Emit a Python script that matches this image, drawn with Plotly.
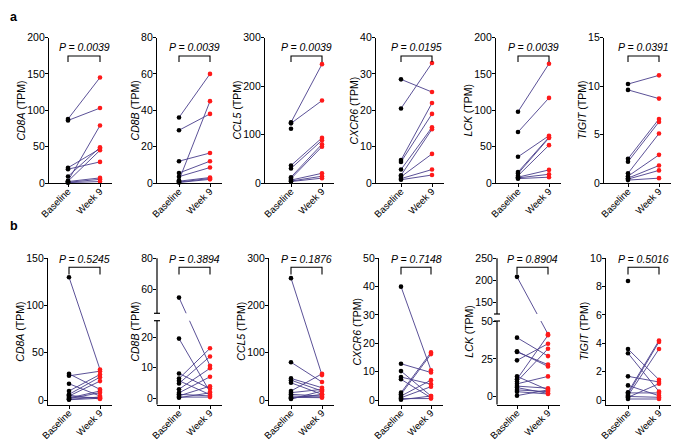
import plotly.graph_objects as go

W, H = 682, 442
OX, OY = 8, 8  # the page body offsets the plot div by 8 px
FONT = "Liberation Sans, Arial, sans-serif"

GENES = ["CD8A", "CD8B", "CCL5", "CXCR6", "LCK", "TIGIT"]
XLABELS = ["Baseline", "Week 9"]

# ---- panel a (TPM, one entry per patient; None = missing pair)
a_cd8a_base = [88, 86, 21, 19, 9, 3, 2.5, 2, 1, 0.5]
a_cd8a_wk9 = [145, 103, 47, 29, 49, 79, 45, 7, 5, 2]
a_cd8b_base = [36, 29, 12, 5.5, 3.5, 1.5, 1, 0.5, 0.3]
a_cd8b_wk9 = [60, 38, 16.5, 12, 8.5, 45, 3, 2.5, 2]
a_ccl5_base = [125, 123, 112, 36, 30, 12, 9, 6, 4, 3]
a_ccl5_wk9 = [245, 170, None, 93, 88, 80, 75, 20, 14, 10]
a_cxcr6_base = [28.5, 20.5, 6.3, 5.8, 3.7, 2.1, 1.7, 1.2, 0.9]
a_cxcr6_wk9 = [25, 33, 22, 19, 15.3, 14.8, 8, 3.7, 2.2]
a_lck_base = [98, 70, 36, 15, 13, 10, 8, 7, 6]
a_lck_wk9 = [164, 117, 65, 63, 62, 52, 18, 12, 8]
a_tigit_base = [10.2, 9.6, 2.5, 2.2, 1.0, 0.7, 0.5, 0.4, 0.3]
a_tigit_wk9 = [11.1, 8.7, 6.6, 6.3, 5.1, 2.9, 1.8, 1.3, 0.5]

a_pvals = ["0.0039", "0.0039", "0.0039", "0.0195", "0.0039", "0.0391"]
a_ticks = [
    [0, 50, 100, 150, 200],
    [0, 20, 40, 60, 80],
    [0, 100, 200, 300],
    [0, 10, 20, 30, 40],
    [0, 50, 100, 150, 200],
    [0, 5, 10, 15],
]

# ---- panel b
b_cd8a_base = [130, 27.7, 25.6, 17.2, 9.5, 6, 4.2, 3.2, 2.1, 1.4, 0.7, 0.3, 5]
b_cd8a_wk9 = [32.3, 11.2, 30.5, 4.2, 27, 24.2, 20, 2.5, 9.5, 7.7, 3.2, 1.8, 1]
b_cd8b_base = [55, 19.6, 8.1, 6.4, 5.7, 4.8, 2.9, 1.7, 1.2, 0.7, 0.3, 0.1]
b_cd8b_wk9 = [10.6, 2, 3.1, 16.4, 1.1, 13.7, 9.8, 7, 0.7, 3.9, 0.3, 1.7]
b_ccl5_base = [258, 80, 45.7, 42, 36.5, 19, 15.5, 12, 8.4, 5.6, 3.5, 2]
b_ccl5_wk9 = [52.7, 38, 26, 19, 12, 55.5, 22.5, 8.4, 6.3, 4.9, 12, 19]
b_cxcr6_base = [40, 12.8, 10.2, 8.1, 7.3, 2.6, 2, 1.4, 0.8, 0.5, 0.1]
b_cxcr6_wk9 = [10.5, 9.7, 1.4, 5.6, 0.8, 16.8, 16.2, 7, 4.7, 0.5, 1.4]
b_lck_base = [208, 39, 30, 29.5, 24, 13.4, 11.6, 10, 8.5, 7, 6, 4.5, 3.3, 0.7]
b_lck_wk9 = [41.3, 26.8, 20, 21.2, 35, 4.5, 40.6, 31.7, 13.4, 5.6, 2.2, 3.3, 1.8, 4.5]
b_tigit_base = [8.4, 3.6, 3.3, 1.67, 1.03, 0.55, 0.43, 0.31, 0.19, 0.07, 0.5, 0.25]
b_tigit_wk9 = [None, 1.43, 0.6, 1.27, 0.3, 4.2, 4.1, 3.6, 1.15, 0.07, 0.5, 0.19]

b_pvals = ["0.5245", "0.3894", "0.1876", "0.7148", "0.8904", "0.5016"]
b_ticks = [
    [0, 50, 100, 150],
    [0, 10, 20, 60, 80],
    [0, 100, 200, 300],
    [0, 10, 20, 30, 40, 50],
    [0, 25, 50, 150, 200, 250],
    [0, 2, 4, 6, 8, 10],
]

# ---- geometry (pixels in the 682x442 window)
ROW_A = dict(top=37.5, zero=183, axis=183, p_y=47, br_top=56, br_bot=62,
             axis_l=[49, 157, 265, 376, 496, 604],
             base=[68, 179, 291, 401, 518, 628],
             week=[100, 210, 322, 432, 549, 659])
ROW_B = dict(top=258.3, zero=400, axis=404.5, p_y=258.5, br_top=267.3, br_bot=274.5,
             axis_l=[48, 157, 269, 379, 497, 606],
             base=[69, 179, 291, 401, 517, 628],
             week=[100, 210, 322, 431, 548, 659])

# broken y axes in panel b (lower segment top, upper segment bottom)
BREAKS = {
    ("b", 1): dict(lo_top=25.5, lo_px=320.7, hi_bot=45, hi_px=313.3, zero=398, hi_top=80),
    ("b", 4): dict(lo_top=50, lo_px=321.0, hi_bot=124, hi_px=314.0, zero=396.7, hi_top=250),
}

LINE_COLOR = "#483d8b"
RED = "#ff1a1a"
FW, FH = W - OX, H - OY


def px(x):
    return (x - OX) / FW


def py(y):
    return 1 - (y - OY) / FH


fig = go.Figure()
shapes = []
annotations = []

panels = [
    ("a", ROW_A, [(a_cd8a_base, a_cd8a_wk9), (a_cd8b_base, a_cd8b_wk9), (a_ccl5_base, a_ccl5_wk9),
                  (a_cxcr6_base, a_cxcr6_wk9), (a_lck_base, a_lck_wk9), (a_tigit_base, a_tigit_wk9)],
     a_pvals, a_ticks),
    ("b", ROW_B, [(b_cd8a_base, b_cd8a_wk9), (b_cd8b_base, b_cd8b_wk9), (b_ccl5_base, b_ccl5_wk9),
                  (b_cxcr6_base, b_cxcr6_wk9), (b_lck_base, b_lck_wk9), (b_tigit_base, b_tigit_wk9)],
     b_pvals, b_ticks),
]

k = 0
for row_name, geo, series, pvals, ticks in panels:
    for i, (base, wk9) in enumerate(series):
        k += 1
        xa = "x" if k == 1 else f"x{k}"
        ya = "y" if k == 1 else f"y{k}"
        ax_l, xb, xw = geo["axis_l"][i], geo["base"][i], geo["week"][i]
        x_r = xw + 12
        unit = xw - xb
        brk = BREAKS.get((row_name, i))
        top = geo["top"]

        if brk is None:
            ymax = ticks[i][-1]
            s = (geo["zero"] - top) / ymax

            def f(v):
                return v

            yrange = [-(geo["axis"] - geo["zero"]) / s, ymax]
        else:
            s_lo = (brk["zero"] - brk["lo_px"]) / brk["lo_top"]
            s_hi = (brk["hi_px"] - top) / (brk["hi_top"] - brk["hi_bot"])

            def f(v, brk=brk, s_lo=s_lo, s_hi=s_hi):
                if v <= brk["lo_top"]:
                    return v * s_lo
                return (brk["zero"] - brk["hi_px"]) + (v - brk["hi_bot"]) * s_hi

            yrange = [-(geo["axis"] - brk["zero"]), brk["zero"] - top]

        lx, ly = [], []
        for b, w in zip(base, wk9):
            if b is not None and w is not None:
                lx += [0, 1, None]
                ly += [f(b), f(w), None]
        fig.add_trace(go.Scatter(x=lx, y=ly, mode="lines", xaxis=xa, yaxis=ya,
                                 line=dict(color=LINE_COLOR, width=0.9),
                                 hoverinfo="skip", showlegend=False, cliponaxis=False))
        bv = [f(v) for v in base if v is not None]
        wv = [f(v) for v in wk9 if v is not None]
        fig.add_trace(go.Scatter(x=[0] * len(bv), y=bv, mode="markers", xaxis=xa, yaxis=ya,
                                 marker=dict(color="black", size=4.6), name=XLABELS[0],
                                 showlegend=False, cliponaxis=False))
        fig.add_trace(go.Scatter(x=[1] * len(wv), y=wv, mode="markers", xaxis=xa, yaxis=ya,
                                 marker=dict(color=RED, size=4.6), name=XLABELS[1],
                                 showlegend=False, cliponaxis=False))

        axis_common = dict(showgrid=False, zeroline=False, linecolor="black", linewidth=1.2,
                           ticks="outside", tickcolor="black", tickwidth=1.2, automargin=False)
        fig.layout[f"xaxis{'' if k == 1 else k}"] = dict(
            axis_common, domain=[px(ax_l), px(x_r)],
            range=[-(xb - ax_l) / unit, 1 + (x_r - xw) / unit],
            anchor=ya, tickvals=[0, 1], ticktext=XLABELS, tickangle=-45,
            showline=True, ticklen=3, ticklabelstandoff=-5,
            tickfont=dict(family=FONT, size=9.6, color="black"))
        fig.layout[f"yaxis{'' if k == 1 else k}"] = dict(
            axis_common, domain=[py(geo["axis"]), py(top)], range=yrange, anchor=xa,
            tickvals=[f(t) for t in ticks[i]], ticktext=[str(t) for t in ticks[i]],
            showline=brk is None, ticklen=3, ticklabelstandoff=-2,
            tickfont=dict(family=FONT, size=10.5, color="black"))

        if brk is not None:
            shapes.append(dict(type="rect", xref="paper", yref="paper", layer="above",
                               x0=px(ax_l + 1), x1=px(x_r), y0=py(brk["lo_px"]), y1=py(brk["hi_px"]),
                               fillcolor="white", line=dict(width=0)))
            for y0, y1 in [(geo["axis"], brk["lo_px"]), (brk["hi_px"], top)]:
                shapes.append(dict(type="line", xref="paper", yref="paper", layer="above",
                                   x0=px(ax_l), x1=px(ax_l), y0=py(y0), y1=py(y1),
                                   line=dict(color="black", width=1.2)))
            for yb in [brk["lo_px"], brk["hi_px"]]:
                shapes.append(dict(type="line", xref="paper", yref="paper", layer="above",
                                   x0=px(ax_l - 3), x1=px(ax_l + 3), y0=py(yb), y1=py(yb),
                                   line=dict(color="black", width=1.2)))

        # significance bracket + P value
        shapes.append(dict(type="path", xref="paper", yref="paper",
                           path=(f"M {px(xb)} {py(geo['br_bot'])} L {px(xb)} {py(geo['br_top'])} "
                                 f"L {px(xw)} {py(geo['br_top'])} L {px(xw)} {py(geo['br_bot'])}"),
                           line=dict(color="black", width=1.1)))
        annotations.append(dict(xref="paper", yref="paper", x=px((xb + xw) / 2), y=py(geo["p_y"]),
                                text=f"<i>P = {pvals[i]}</i>", showarrow=False,
                                xanchor="center", yanchor="middle",
                                font=dict(family=FONT, size=10.5, color="black")))

        # y-axis title
        n_chars = max(len(str(t)) for t in ticks[i])
        annotations.append(dict(xref="paper", yref="paper",
                                x=px(ax_l - 10 - 5.9 * n_chars), y=py((top + geo["axis"]) / 2),
                                text=f"<i>{GENES[i]}</i> (TPM)", textangle=-90, showarrow=False,
                                xanchor="center", yanchor="middle",
                                font=dict(family=FONT, size=10.5, color="black")))

for letter, ytop in [("a", OY), ("b", 217)]:
    annotations.append(dict(xref="paper", yref="paper", x=0, y=py(ytop), text=f"<b>{letter}</b>",
                            showarrow=False, xanchor="left", yanchor="top",
                            font=dict(family=FONT, size=12.5, color="black")))

fig.update_layout(width=FW, height=FH, margin=dict(l=0, r=0, t=0, b=0, pad=0, autoexpand=False),
                  paper_bgcolor="white", plot_bgcolor="white",
                  shapes=shapes, annotations=annotations, showlegend=False)

fig.write_html("out.html")
